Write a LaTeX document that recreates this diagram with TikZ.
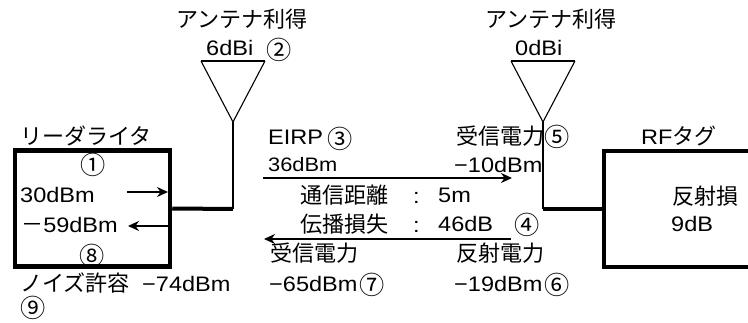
\documentclass[tikz,border=0pt]{standalone}
\usepackage{fontspec}
\setmainfont[FakeStretch=1.12]{Liberation Sans}
\newfontfamily\jpfont[Scale=1.05]{Noto Sans CJK JP}
\newcommand{\jp}[1]{{\jpfont #1}}
\usepackage{tikz}
\usetikzlibrary{arrows.meta}

\begin{document}
\begin{tikzpicture}[x=1pt,y=-1pt,
    lbl/.style={anchor=base west,inner sep=0pt,font=\fontsize{21}{21}\selectfont},
    lblsmall/.style={lbl,font=\fontsize{19.5}{20}\selectfont},
    num/.style={inner sep=0pt,font=\fontsize{24}{24}\selectfont\jpfont},
    block/.style={draw,line width=4.5pt,inner sep=0pt},
    feed/.style={line width=4pt},
    stem/.style={line width=1.1pt},
    dish/.style={line width=2pt},
    power/.style={->,line width=2pt},
    >={Stealth[length=11pt,width=10pt]}]

\clip (0,0) rectangle (748,323);

% Blocks
\node[block,minimum width=155pt,minimum height=116pt] (reader) at (92.5,208.5) {};
\node[block,line width=4pt,minimum width=170pt,minimum height=116pt] (tag) at (689,209) {};

% Antennas
\coordinate (txtip) at (233,122);
\coordinate (txleft) at (201,61);
\coordinate (txright) at (265,61);
\coordinate (txfoot) at (233,209);
\coordinate (rxtip) at (543,122);
\coordinate (rxleft) at (511,61);
\coordinate (rxright) at (575,61);
\coordinate (rxfoot) at (543,209);

\draw[stem] (txleft) -- (txtip) -- (txright);
\draw[dish] (txleft) -- (txright);
\draw[stem] (txtip) -- (txfoot);
\draw[feed] (reader.east) -- (txfoot);
\draw[stem] (rxleft) -- (rxtip) -- (rxright);
\draw[dish] (rxleft) -- (rxright);
\draw[stem] (rxtip) -- (rxfoot);
\draw[feed] (tag.west) -- (rxfoot);

% Power flow
\coordinate (fwda) at (263,178);
\coordinate (fwdb) at (512,178);
\coordinate (backa) at (511,239);
\coordinate (backb) at (264,239);
\coordinate (outa) at (127,192);
\coordinate (outb) at (168,192);
\coordinate (ina) at (168,226);
\coordinate (inb) at (128,226);
\draw[power] (fwda) -- (fwdb);
\draw[power] (backa) -- (backb);
\draw[power,line width=1.4pt] (outa) -- (outb);
\draw[power] (ina) -- (inb);

% Labels, left side
\node[lbl] (txgain) at (176,28) {\jp{アンテナ利得}};
\node[lbl] (txdbi) at (206,56) {6dBi};
\node[num] (n2) at (279,50) {②};
\node[lbl] (readername) at (20,145) {\jp{リーダライタ}};
\node[num] (n1) at (93,165) {①};
\node[lbl] (outdbm) at (20,203) {30dBm};
\node[lbl] (indbm) at (21,233) {\jp{－}59dBm};
\node[num] (n8) at (92,256) {⑧};
\node[lbl] (noise) at (20,292) {\jp{ノイズ許容}};
\node[lbl] (noisedbm) at (142,292) {−74dBm};
\node[num] (n9) at (33,308) {⑨};

% Labels, middle
\node[lbl] (eirp) at (268,145) {EIRP};
\node[num] (n3) at (340,139) {③};
\node[lblsmall] (eirpdbm) at (268,172) {36dBm};
\node[lbl] (dist) at (300,204) {\jp{通信距離}};
\node[lbl] (distcolon) at (413,204) {:};
\node[lbl] (distval) at (438,203) {5m};
\node[lbl] (loss) at (300,233) {\jp{伝播損失}};
\node[lbl] (losscolon) at (413,233) {:};
\node[lbl] (lossval) at (438,232) {46dB};
\node[num] (n4) at (527,225) {④};
\node[lbl] (rxpow) at (270,262) {\jp{受信電力}};
\node[lbl] (rxpowdbm) at (269,292) {−65dBm};
\node[num] (n7) at (372,285) {⑦};

% Labels, right side
\node[lbl] (rxgain) at (485,28) {\jp{アンテナ利得}};
\node[lbl] (rxdbi) at (515,56) {0dBi};
\node[lbl] (tagpow) at (456,145) {\jp{受信電力}};
\node[num] (n5) at (557,137) {⑤};
\node[lbl] (tagdbm) at (454,173) {−10dBm};
\node[lbl] (refl) at (456,262) {\jp{反射電力}};
\node[lbl] (refldbm) at (454,292) {−19dBm};
\node[num] (n6) at (557,285) {⑥};
\node[lbl] (tagname) at (641,145) {RF\jp{タグ}};
\node[lbl] (tagloss) at (672,205) {\jp{反射損}};
\node[lbl] (taglossdb) at (671,232) {9dB};

\end{tikzpicture}
\end{document}
